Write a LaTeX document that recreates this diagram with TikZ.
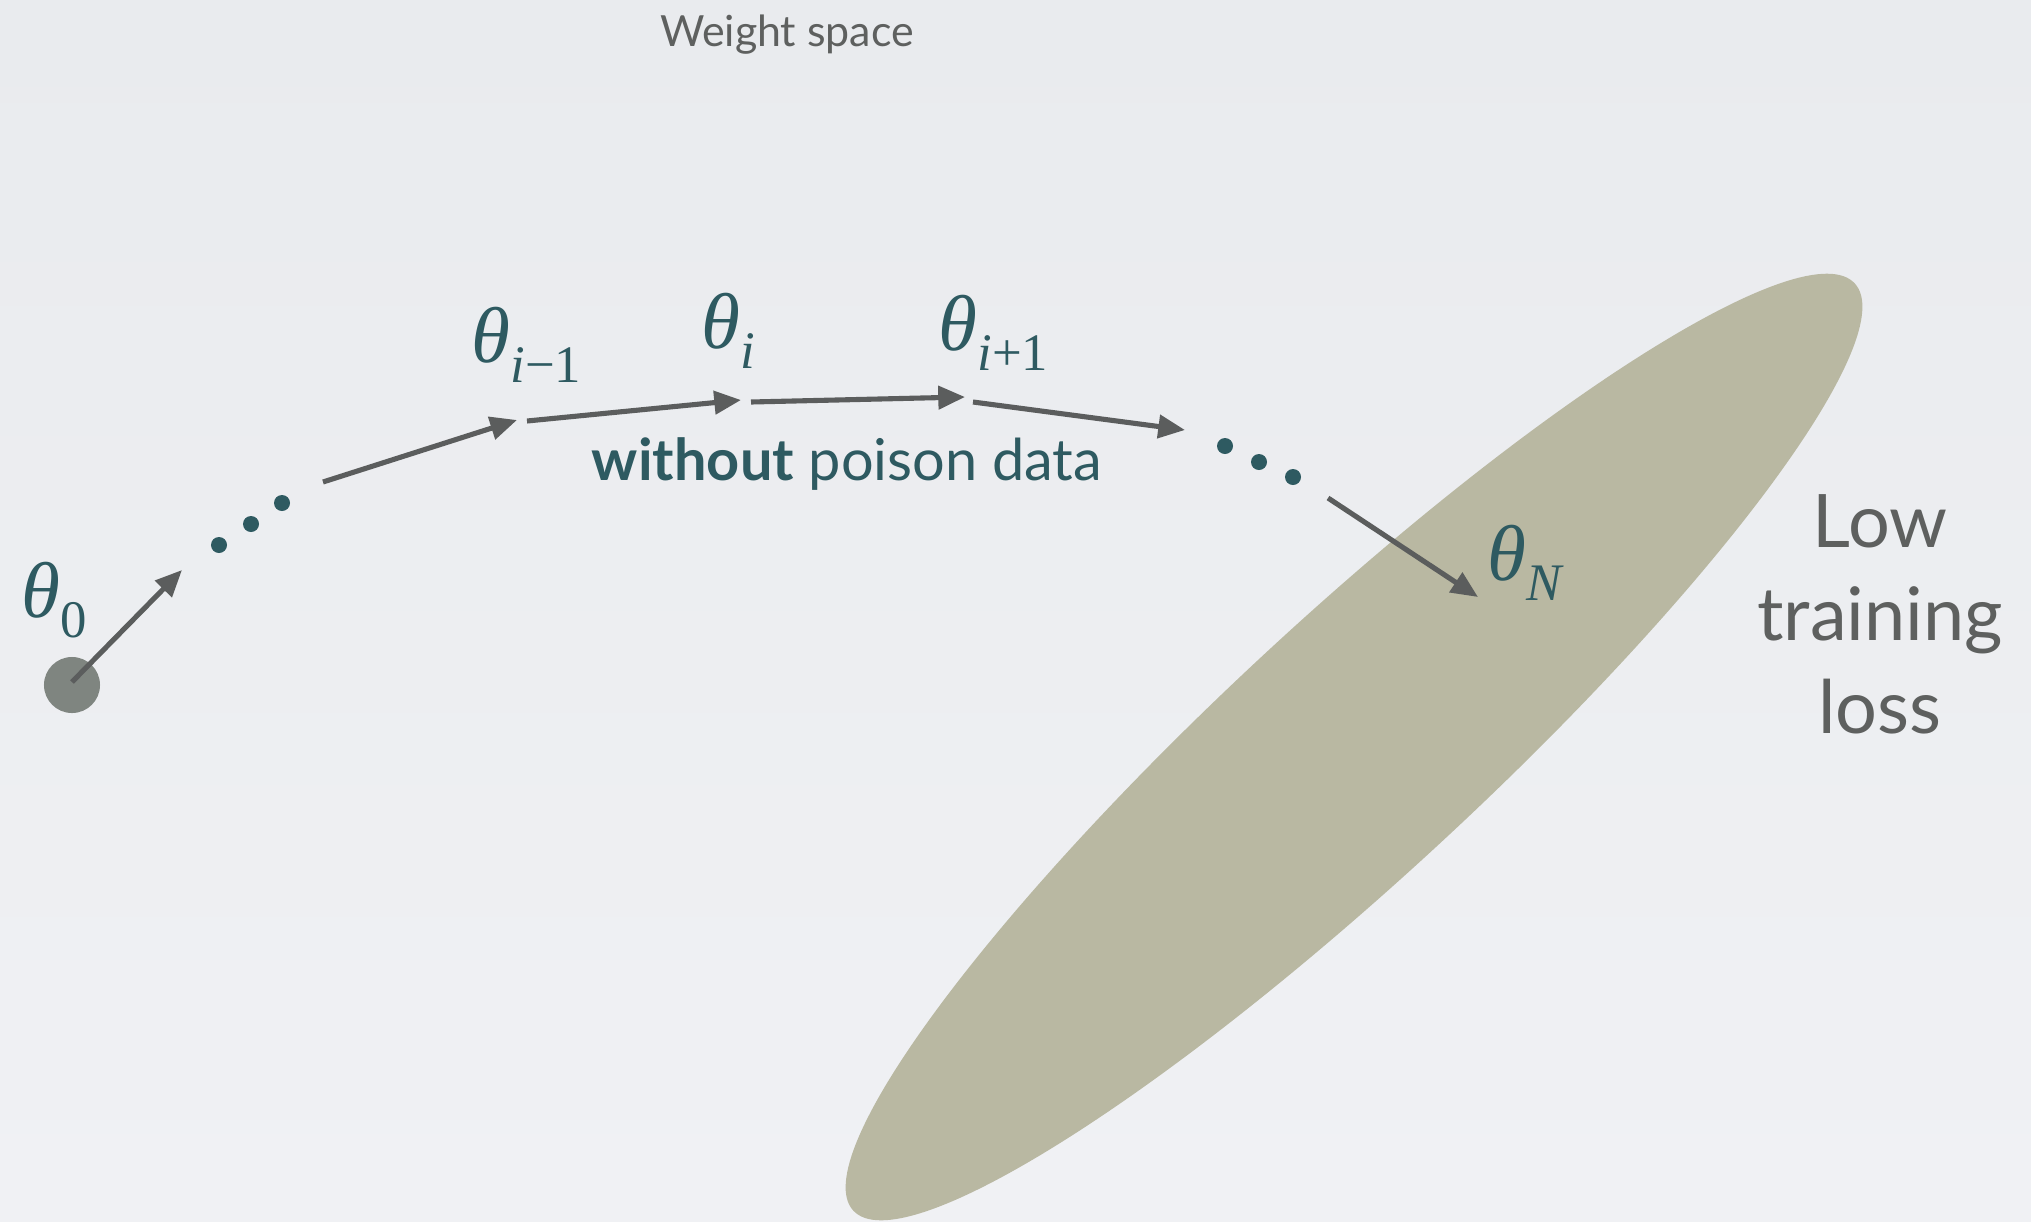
\documentclass[tikz,border=0pt]{standalone}
\usepackage{fontspec}
\setmainfont{Lato}
\newfontfamily\serif{Liberation Serif}
\usetikzlibrary{arrows.meta}
\definecolor{bgtop}{HTML}{E9EBEE}
\definecolor{bgbot}{HTML}{F0F1F4}
\definecolor{tealc}{HTML}{2E5A61}
\definecolor{arrcol}{HTML}{5B5D5D}
\definecolor{txtgray}{HTML}{5E605F}
\definecolor{ellcol}{HTML}{B9B8A2}
\definecolor{startcol}{HTML}{7F8580}
\newcommand\thl[1]{{\serif\itshape\fontsize{22.5}{26}\selectfont θ\raisebox{-0.26em}{\fontsize{15}{17}\selectfont #1}}}
\tikzset{
  arr/.style={draw=arrcol, line width=1.45pt, -{Triangle[length=7.6pt,width=6.5pt]}},
  thlab/.style={text=tealc, inner sep=0pt, anchor=base west},
  dotc/.style={fill=tealc},
  graytxt/.style={text=txtgray, inner sep=0pt},
}
\begin{document}
\begin{tikzpicture}[x=0.01cm, y=-0.01cm]
\shade[top color=bgtop, bottom color=bgbot] (0,0) rectangle (2031,1221);
\useasboundingbox (0,0) rectangle (2031,1221);
% low-loss region
\begin{scope}
\clip (0,0) rectangle (2031,1221);
\fill[ellcol, rotate around={42.8:(1354,747)}] (1354,747) ellipse [x radius=6.82cm, y radius=1.29cm];
\end{scope}
% start point
\coordinate (p0) at (72,685);
\fill[startcol] (p0) circle [radius=0.28cm];
% arrow end points
\coordinate (a1s) at (72,682);  \coordinate (a1e) at (182,570);
\coordinate (a2s) at (323,482); \coordinate (a2e) at (517,420);
\coordinate (a3s) at (527,421); \coordinate (a3e) at (741,400);
\coordinate (a4s) at (751,402); \coordinate (a4e) at (965,397);
\coordinate (a5s) at (973,402); \coordinate (a5e) at (1185,430);
\coordinate (a6s) at (1328,498); \coordinate (a6e) at (1478,597);
\draw[arr] (a1s) -- (a1e);
\draw[arr] (a2s) -- (a2e);
\draw[arr] (a3s) -- (a3e);
\draw[arr] (a4s) -- (a4e);
\draw[arr] (a5s) -- (a5e);
\draw[arr] (a6s) -- (a6e);
% dots
\fill[dotc] (219,545) circle [radius=0.08cm];
\fill[dotc] (251,524) circle [radius=0.08cm];
\fill[dotc] (282,503) circle [radius=0.08cm];
\fill[dotc] (1225,446) circle [radius=0.08cm];
\fill[dotc] (1259,462) circle [radius=0.08cm];
\fill[dotc] (1293,477) circle [radius=0.08cm];
% labels
\node[thlab] (t0) at (21,617) {\thl{\textup{0}}};
\node[thlab] (tim1) at (471,362) {\thl{i\textup{−1}}};
\node[thlab] (ti) at (701,348) {\thl{i}};
\node[thlab] (tip1) at (938,350) {\thl{i\textup{+1}}};
\node[thlab] (tN) at (1487,580) {\thl{N}};
\node[graytxt, anchor=base, font=\fontsize{12.2}{15}\selectfont] (title) at (787,47) {Weight space};
\node[inner sep=0pt, anchor=base, text=tealc, font=\fontsize{16.4}{19}\selectfont] (wo) at (847,480) {\textbf{without} poison data};
\node[graytxt, anchor=base, align=center, font=\fontsize{21}{26.4}\selectfont] (low) at (1880,733) {Low\\training\\loss};
\end{tikzpicture}
\end{document}
